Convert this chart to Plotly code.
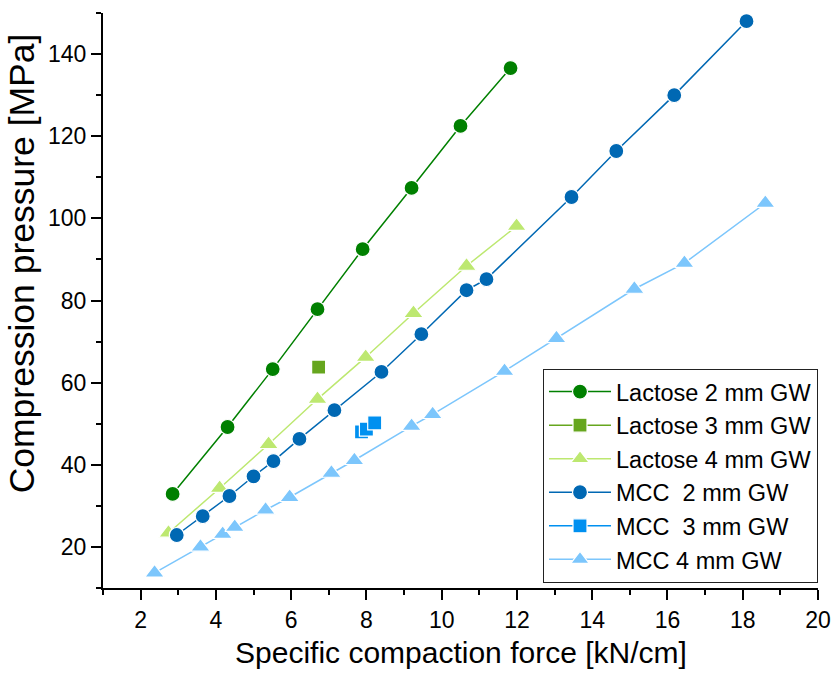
import plotly.graph_objects as go

# Lactose 2 mm GW
lac2_x = [2.85, 4.31, 5.51, 6.70, 7.90, 9.20, 10.50, 11.83]
lac2_y = [32.9, 49.2, 63.3, 77.9, 92.5, 107.4, 122.5, 136.6]
# Lactose 3 mm GW
lac3_x = [6.73]
lac3_y = [63.8]
# Lactose 4 mm GW
lac4_x = [2.74, 4.10, 5.40, 6.70, 7.98, 9.25, 10.66, 11.99]
lac4_y = [23.4, 34.3, 45.0, 56.0, 66.2, 76.9, 88.4, 98.1]
# MCC 2 mm GW
mcc2_x = [2.96, 3.65, 4.36, 5.00, 5.53, 6.22, 7.15, 8.40, 9.46, 10.66, 11.19, 13.45, 14.64, 16.18, 18.10]
mcc2_y = [22.9, 27.5, 32.4, 37.2, 40.9, 46.3, 53.3, 62.6, 71.8, 82.5, 85.2, 105.2, 116.4, 130.0, 148.0]
# MCC 3 mm GW
mcc3_x = [7.87, 8.00, 8.22]
mcc3_y = [48.0, 48.7, 50.2]
# MCC 4 mm GW
mcc4_x = [2.37, 3.59, 4.18, 4.50, 5.32, 5.96, 7.07, 7.68, 9.20, 9.76, 11.67, 13.05, 15.12, 16.45, 18.60]
mcc4_y = [13.7, 20.0, 23.1, 24.8, 29.0, 32.1, 38.0, 41.1, 49.4, 52.3, 62.8, 70.8, 82.8, 89.1, 103.7]

x_ticks = [2, 4, 6, 8, 10, 12, 14, 16, 18, 20]
y_ticks = [20, 40, 60, 80, 100, 120, 140]

series = [
    ("Lactose 2 mm GW", lac2_x, lac2_y, "#008000", "circle", 15),
    ("Lactose 3 mm GW", lac3_x, lac3_y, "#66a61e", "square", 14),
    ("Lactose 4 mm GW", lac4_x, lac4_y, "#bde870", "triangle-up", 17),
    ("MCC  2 mm GW", mcc2_x, mcc2_y, "#0068b3", "circle", 15),
    ("MCC  3 mm GW", mcc3_x, mcc3_y, "#0090f0", "square", 14),
    ("MCC 4 mm GW", mcc4_x, mcc4_y, "#7cc6fc", "triangle-up", 17),
]

fig = go.Figure()
for name, xs, ys, col, sym, sz in series:
    fig.add_trace(go.Scatter(
        x=xs, y=ys, name=name, mode="lines+markers",
        line=dict(color=col, width=1.5),
        marker=dict(color=col, symbol=sym, size=sz, line=dict(color="white", width=1.2)),
    ))

font = "Liberation Sans, Arial, sans-serif"
axis_common = dict(
    showgrid=False, zeroline=False, showline=True, linecolor="black", linewidth=2,
    ticks="outside", ticklen=10, tickwidth=2, tickcolor="black",
    tickfont=dict(size=23), automargin=False,
)
fig.update_layout(
    width=831, height=678,
    margin=dict(l=103, r=13, t=13, b=90),
    paper_bgcolor="white", plot_bgcolor="white",
    font=dict(family=font, size=23, color="black"),
    showlegend=True,
    legend=dict(
        x=1, y=0.009, xanchor="right", yanchor="bottom",
        bordercolor="#222", borderwidth=1, bgcolor="white",
        font=dict(size=23.5, family=font), tracegroupgap=0,
        itemwidth=62,
    ),
    xaxis=dict(
        range=[1, 20], tickvals=x_ticks,
        minor=dict(tickvals=[1, 3, 5, 7, 9, 11, 13, 15, 17, 19], ticks="outside", ticklen=5, tickwidth=2, tickcolor="black"),
        **axis_common,
    ),
    yaxis=dict(
        range=[10, 150], tickvals=y_ticks,
        minor=dict(tickvals=[10, 30, 50, 70, 90, 110, 130, 150], ticks="outside", ticklen=5, tickwidth=2, tickcolor="black"),
        **axis_common,
    ),
    annotations=[
        dict(text="Specific compaction force [kN/cm]", xref="paper", yref="paper",
             x=0.5, y=-0.112, xanchor="center", yanchor="middle", showarrow=False,
             font=dict(size=30, family=font)),
        dict(text="Compression pressure [MPa]", xref="paper", yref="paper",
             x=-0.113, y=0.565, xanchor="center", yanchor="middle", showarrow=False,
             textangle=-90, font=dict(size=35.5, family=font)),
    ],
)

fig.write_html("out.html")
